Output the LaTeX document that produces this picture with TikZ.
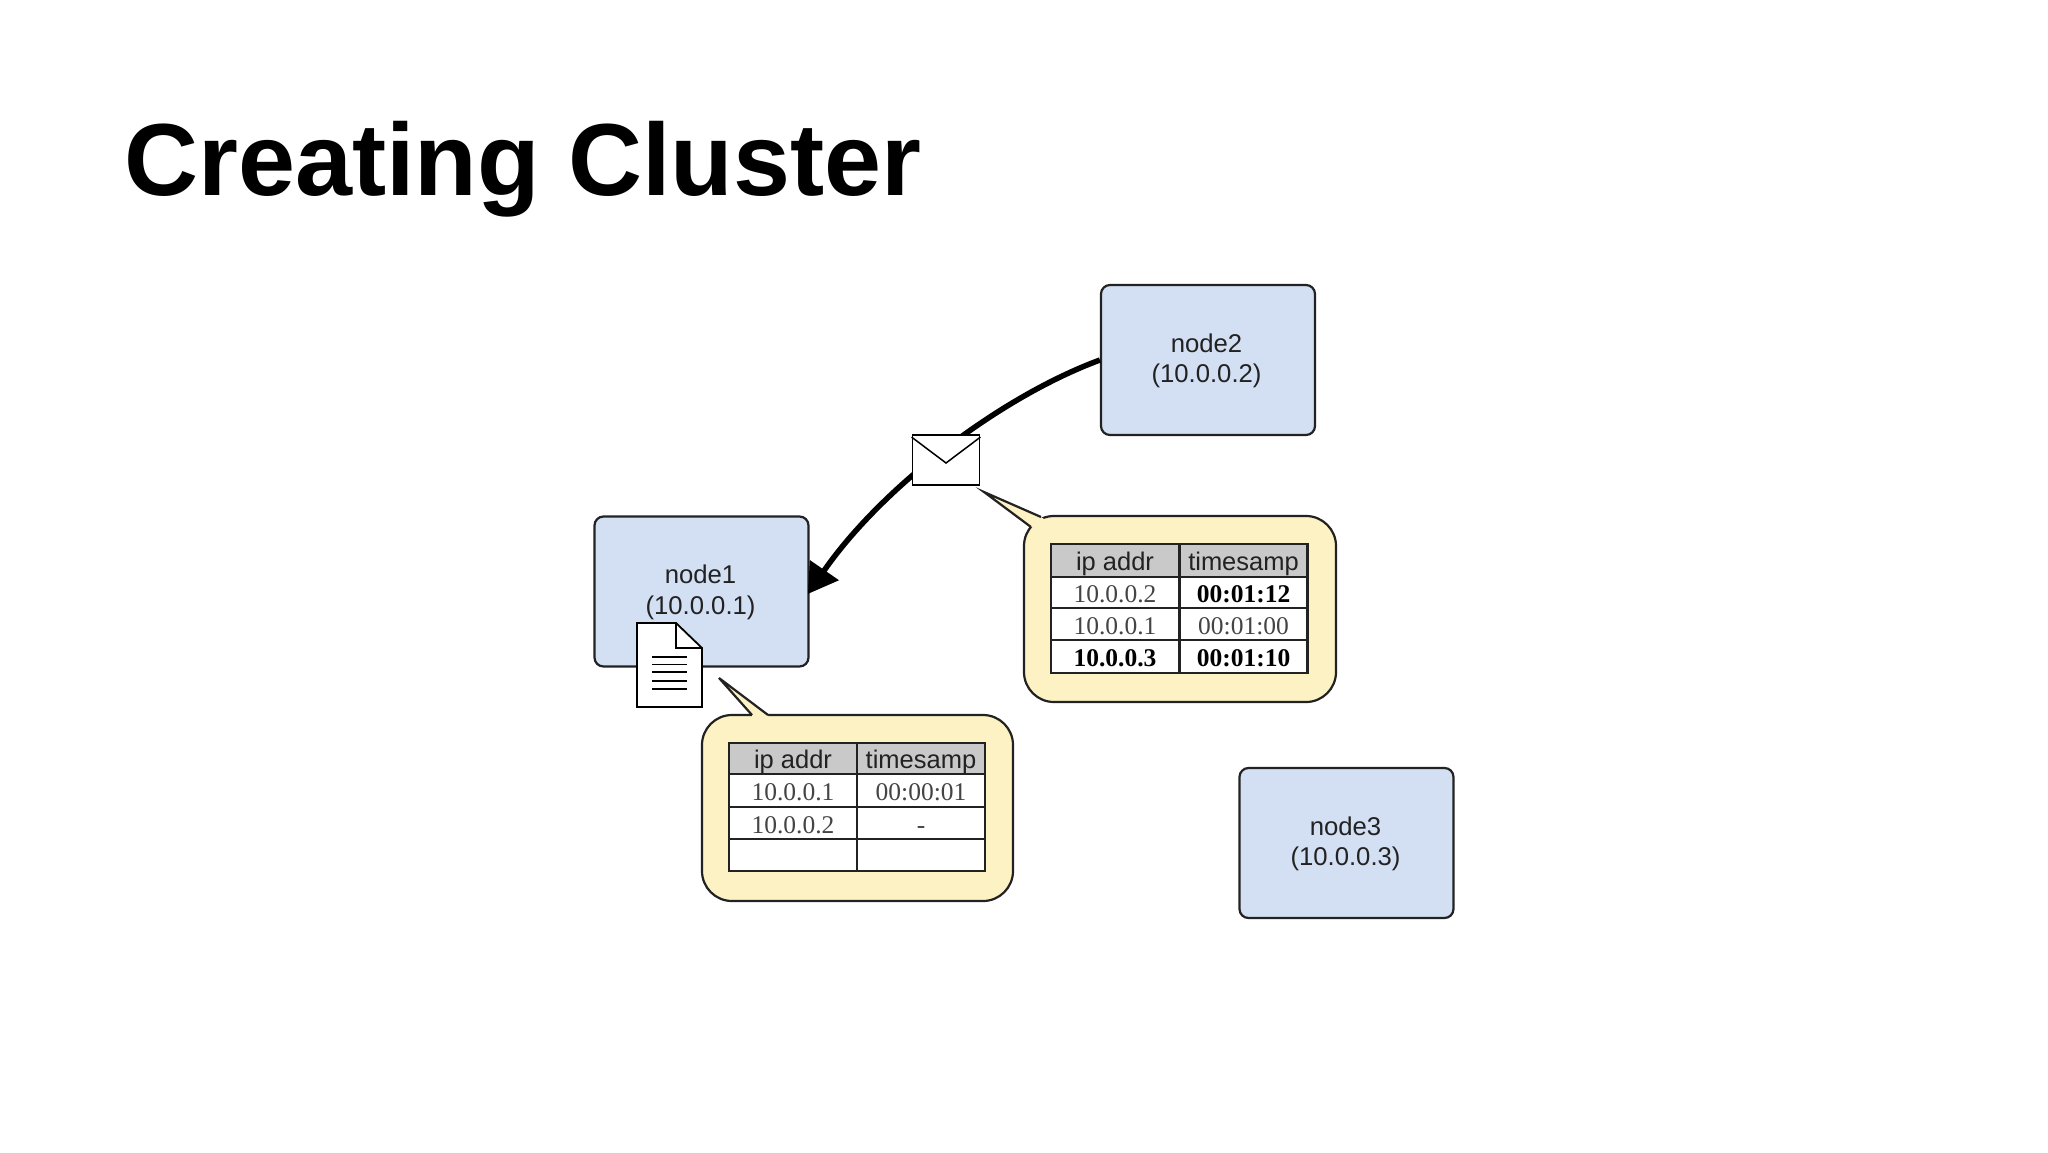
\documentclass[tikz,border=0pt]{standalone}
\usepackage{fontspec}
\setmainfont{Liberation Sans}
\newfontfamily\timesfont{Liberation Serif}
\usetikzlibrary{arrows.meta,calc}
\definecolor{nodeblue}{HTML}{D3DFF3}
\definecolor{bubbleyellow}{HTML}{FDF2C4}
\definecolor{headgray}{HTML}{C9C9C9}
\definecolor{softblack}{HTML}{222222}
\definecolor{softgray}{HTML}{444444}
\tikzset{
  x=1pt,y=-1pt,
  outline/.style={draw=softblack,line width=2.2pt},
  hostbox/.style={outline,fill=nodeblue,rounded corners=9pt,minimum width=214pt,minimum height=150pt,inner sep=0pt,
    align=center,text=softblack,font=\fontsize{25.7}{30.5}\selectfont},
  hostlabel/.style={inner sep=0pt,align=center,text=softblack,font=\fontsize{25.7}{30.5}\selectfont},
  bubble/.style={outline,fill=bubbleyellow,rounded corners=30pt,inner sep=0pt},
  cell/.style={draw=softblack,line width=2.2pt,fill=white,inner sep=0pt,text height=22pt,text depth=2pt,anchor=center},
  colL/.style={cell,minimum width=128pt},
  colR/.style={cell,minimum width=128pt},
  headcell/.style={fill=headgray,text=softblack,font=\fontsize{25.5}{30}\selectfont},
  datacell/.style={text=softgray,font=\fontsize{25.5}{30}\timesfont},
  boldcell/.style={text=black,font=\fontsize{25.5}{30}\timesfont\bfseries},
  flow/.style={draw=black,line width=5.5pt,shorten >=-3pt,-{Triangle[length=29pt,width=34pt]}},
  icon/.style={draw=black,line width=1.8pt,fill=white,line join=miter},
  iconline/.style={draw=black,line width=1.5pt},
}
\begin{document}
\begin{tikzpicture}
\useasboundingbox (0,0) rectangle (2048,1152);
\fill[white] (0,0) rectangle (2048,1152);

\node[anchor=base west,inner sep=0pt,text=black,font=\fontsize{102.5}{110}\selectfont\bfseries] (title) at (124,195) {Creating Cluster};

% hosts
\node[hostbox] (n1) at (701.5,591.5) {};
\node[hostbox] (n2) at (1208,360) {};
\node[hostbox] (n3) at (1346.5,843) {};
\node[hostlabel] (l1) at (700.5,592.5) {node1\\(10.0.0.1)};
\node[hostlabel] (l2) at (1206.5,361) {node2\\(10.0.0.2)};
\node[hostlabel] (l3) at (1345.5,844) {node3\\(10.0.0.3)};

% gossip message
\draw[flow] (n2.west) .. controls (1000,397) and (882,487) .. (n1.east);

% envelope
\node[icon,minimum width=67pt,minimum height=50pt,inner sep=0pt] (env) at (946,460) {};
\draw[iconline] ($(env.north west)+(0,3)$) -- ($(env.center)+(0,3)$) -- ($(env.north east)+(0,3)$);

% bubble 2 (received table)
\node[bubble,minimum width=312pt,minimum height=186pt] (b2) at (1180,609) {};
\coordinate (b2tip) at (984,492);
\fill[bubbleyellow] (1031,527) -- (b2tip) -- (1041,517) -- (1060,530) -- cycle;
\draw[outline,line join=miter] (1031,527) -- (b2tip) -- (1041,517);

% bubble 1 (local table)
\node[bubble,minimum width=311pt,minimum height=186pt] (b1) at (857.5,808) {};
\coordinate (b1tip) at (719,678);
\fill[bubbleyellow] (752,715) -- (b1tip) -- (768,715) -- (768,720) -- (752,720) -- cycle;
\draw[outline,line join=miter] (752,715) -- (b1tip) -- (768,715);

% table 1
\node[colL,headcell,minimum height=31pt] (a11) at (793,758.5) {ip addr};
\node[colR,headcell,minimum height=31pt] (a12) at (921,758.5) {timesamp};
\node[colL,datacell,minimum height=33pt] (a21) at (793,790.5) {10.0.0.1};
\node[colR,datacell,minimum height=33pt] (a22) at (921,790.5) {00:00:01};
\node[colL,datacell,minimum height=32pt] (a31) at (793,823) {10.0.0.2};
\node[colR,datacell,minimum height=32pt] (a32) at (921,823) {-};
\node[colL,datacell,minimum height=32pt] (a41) at (793,855) {};
\node[colR,datacell,minimum height=32pt] (a42) at (921,855) {};

% table 2
\node[colL,headcell,minimum height=33pt] (c11) at (1115,560.5) {ip addr};
\node[colR,headcell,minimum height=33pt] (c12) at (1243.5,560.5) {timesamp};
\node[colL,datacell,minimum height=31pt] (c21) at (1115,592.5) {10.0.0.2};
\node[colR,boldcell,minimum height=31pt] (c22) at (1243.5,592.5) {00:01:12};
\node[colL,datacell,minimum height=32pt] (c31) at (1115,624) {10.0.0.1};
\node[colR,datacell,minimum height=32pt] (c32) at (1243.5,624) {00:01:00};
\node[colL,boldcell,minimum height=33pt] (c41) at (1115,656.5) {10.0.0.3};
\node[colR,boldcell,minimum height=33pt] (c42) at (1243.5,656.5) {00:01:10};

% document icon
\draw[icon] (637,623) -- (676,623) -- (702,648) -- (702,707) -- (637,707) -- cycle;
\draw[iconline] (676,623) -- (676,648) -- (702,648);
\draw[iconline] (652,657) -- (687,657);
\draw[iconline] (652,664.5) -- (687,664.5);
\draw[iconline] (652,672) -- (687,672);
\draw[iconline] (652,681) -- (687,681);
\draw[iconline] (652,689) -- (687,689);
\end{tikzpicture}
\end{document}
